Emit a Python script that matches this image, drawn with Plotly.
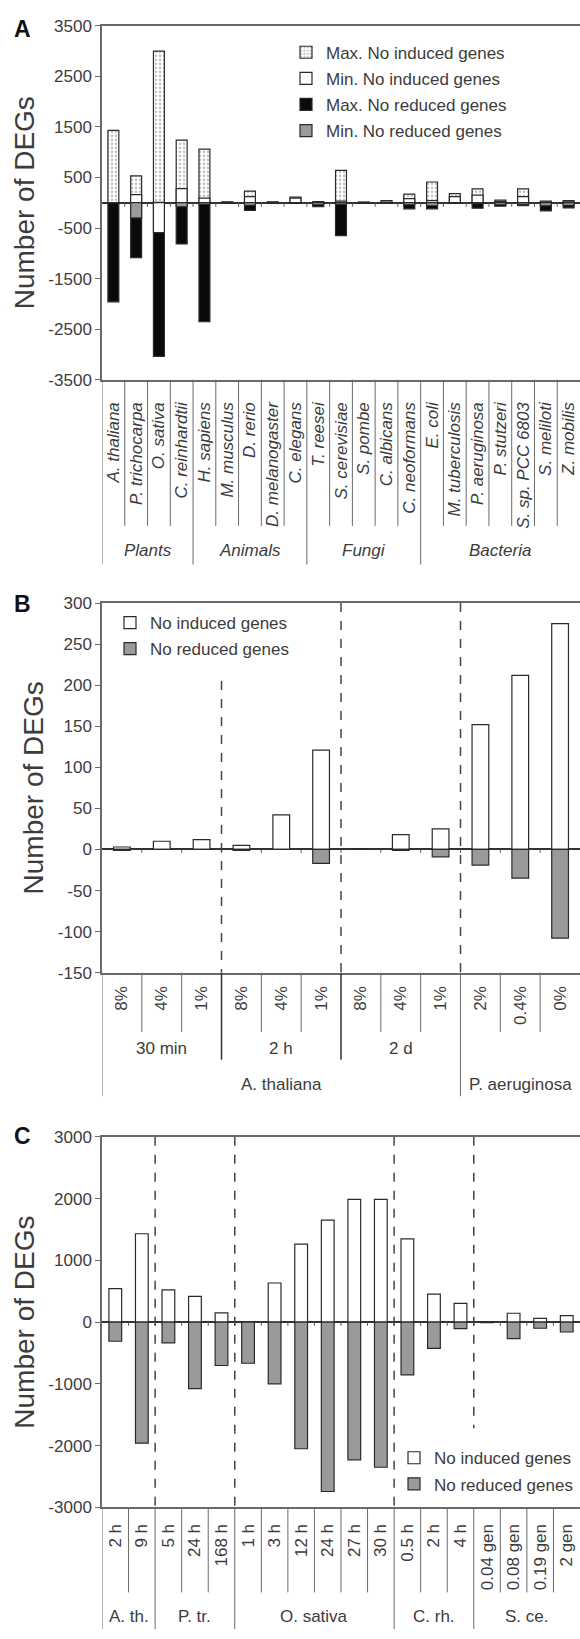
import plotly.graph_objects as go

W, H = 580, 1639

# ---------------- Panel A data ----------------
species = ["A. thaliana", "P. trichocarpa", "O. sativa", "C. reinhardtii", "H. sapiens",
           "M. musculus", "D. rerio", "D. melanogaster", "C. elegans", "T. reesei",
           "S. cerevisiae", "S. pombe", "C. albicans", "C. neoformans", "E. coli",
           "M. tuberculosis", "P. aeruginosa", "P. stutzeri", "S. sp. PCC 6803",
           "S. meliloti", "Z. mobilis"]
kingdoms = ["Plants", "Animals", "Fungi", "Bacteria"]
kingdom_sizes = [4, 5, 5, 7]
a_max_induced = [1430, 530, 3000, 1240, 1060, 15, 230, 15, 110, 20, 640, 10, 40, 170, 410, 180, 275, 50, 275, 30, 40]
a_min_induced = [3, 160, 5, 280, 90, 5, 120, 5, 90, 10, 30, 5, 10, 80, 40, 120, 152, 20, 120, 10, 15]
a_max_reduced = [-1960, -1085, -3040, -815, -2355, -15, -150, -15, -10, -80, -650, -10, -5, -120, -120, -10, -108, -70, -60, -160, -100]
a_min_reduced = [-5, -300, -590, -80, -30, -5, -50, -5, -5, -40, -30, -5, -2, -40, -60, -5, -19, -40, -30, -60, -50]
a_ticks = [-3500, -2500, -1500, -500, 500, 1500, 2500, 3500]

# ---------------- Panel B data ----------------
b_conc = ["8%", "4%", "1%", "8%", "4%", "1%", "8%", "4%", "1%", "2%", "0.4%", "0%"]
b_times = ["30 min", "2 h", "2 d", ""]
b_time_sizes = [3, 3, 3, 3]
b_species = ["A. thaliana", "P. aeruginosa"]
b_species_sizes = [9, 3]
b_induced = [3, 10, 12, 5, 42, 121, 0, 18, 25, 152, 212, 275]
b_reduced = [-1, 0, 0, -1, 0, -17, 0, -1, -9, -19, -35, -108]
b_ticks = [-150, -100, -50, 0, 50, 100, 150, 200, 250, 300]

# ---------------- Panel C data ----------------
c_times = ["2 h", "9 h", "5 h", "24 h", "168 h", "1 h", "3 h", "12 h", "24 h", "27 h", "30 h",
           "0.5 h", "2 h", "4 h", "0.04 gen", "0.08 gen", "0.19 gen", "2 gen"]
c_species = ["A. th.", "P. tr.", "O. sativa", "C. rh.", "S. ce."]
c_species_sizes = [2, 3, 6, 3, 4]
c_induced = [543, 1430, 521, 415, 149, 5, 633, 1262, 1650, 1986, 1986, 1347, 452, 303, 10, 143, 60, 106]
c_reduced = [-310, -1960, -336, -1077, -703, -666, -1000, -2050, -2742, -2230, -2350, -853, -426, -107, -10, -266, -100, -160]
c_ticks = [-3000, -2000, -1000, 0, 1000, 2000, 3000]

# ---------------- styling ----------------
FONT = "Arial, Liberation Sans, Helvetica, sans-serif"
TXT = "#3c3c3c"
AX = "#6a6a6a"
EDGE = "#2a2a2a"
GRAY = "#9a9a9a"
a_min_reduced_colors = [GRAY] * len(species)
a_min_reduced_colors[2] = "white"


def py(p):
    return 1 - p / H


X0 = 102 / W

fig = go.Figure()

# Panel A bars
ia = list(range(len(species)))
fig.add_trace(go.Bar(x=ia, y=a_max_induced, name="Max. No induced genes", width=0.48,
                     marker=dict(color="white", line=dict(color=EDGE, width=1.2),
                                 pattern=dict(shape=".", fgcolor="#777", size=4, solidity=0.3)),
                     xaxis="x", yaxis="y", legend="legend", legendgroup="a1"))
fig.add_trace(go.Bar(x=ia, y=a_min_induced, name="Min. No induced genes", width=0.48,
                     marker=dict(color="white", line=dict(color=EDGE, width=1.2)),
                     xaxis="x", yaxis="y", legend="legend", legendgroup="a2"))
fig.add_trace(go.Bar(x=ia, y=a_max_reduced, name="Max. No reduced genes", width=0.48,
                     marker=dict(color="#0a0a0a", line=dict(color=EDGE, width=1.2)),
                     xaxis="x", yaxis="y", legend="legend", legendgroup="a3"))
fig.add_trace(go.Bar(x=ia, y=a_min_reduced, name="Min. No reduced genes", width=0.48,
                     marker=dict(color=a_min_reduced_colors, line=dict(color=EDGE, width=1.2)),
                     xaxis="x", yaxis="y", legend="legend", legendgroup="a4"))

# Panel B bars
ib = list(range(len(b_conc)))
fig.add_trace(go.Bar(x=ib, y=b_induced, name="No induced genes", width=0.42,
                     marker=dict(color="white", line=dict(color=EDGE, width=1.2)),
                     xaxis="x2", yaxis="y2", legend="legend2", legendgroup="b1"))
fig.add_trace(go.Bar(x=ib, y=b_reduced, name="No reduced genes", width=0.42,
                     marker=dict(color=GRAY, line=dict(color=EDGE, width=1.2)),
                     xaxis="x2", yaxis="y2", legend="legend2", legendgroup="b2"))

# Panel C bars
ic = list(range(len(c_times)))
fig.add_trace(go.Bar(x=ic, y=c_induced, name="No induced genes", width=0.48,
                     marker=dict(color="white", line=dict(color=EDGE, width=1.2)),
                     xaxis="x3", yaxis="y3", legend="legend3", legendgroup="c1"))
fig.add_trace(go.Bar(x=ic, y=c_reduced, name="No reduced genes", width=0.48,
                     marker=dict(color=GRAY, line=dict(color=EDGE, width=1.2)),
                     xaxis="x3", yaxis="y3", legend="legend3", legendgroup="c2"))

shapes = []
annotations = []


def vline(xref, x, p0, p1, color=AX, width=1, dash="solid"):
    shapes.append(dict(type="line", xref=xref, yref="paper", x0=x, x1=x, y0=py(p0), y1=py(p1),
                       line=dict(color=color, width=width, dash=dash)))


def group_labels(xref, names, sizes, ycenter, italic=False):
    start = 0
    for name, n in zip(names, sizes):
        if name:
            annotations.append(dict(xref=xref, yref="paper", x=start + (n - 1) / 2, y=py(ycenter),
                                    text=name, showarrow=False, xanchor="center", yanchor="middle",
                                    font=dict(family=FONT, size=17, color=TXT,
                                              style="italic" if italic else "normal")))
        start += n


def boundaries(sizes):
    out, s = [], 0
    for n in sizes[:-1]:
        s += n
        out.append(s - 0.5)
    return out


def zero_ticks(xref, yref, n, half):
    for i in range(n - 1):
        shapes.append(dict(type="line", xref=xref, yref=yref, x0=i + 0.5, x1=i + 0.5, y0=0, y1=-half,
                           line=dict(color="#555", width=1)))


# Panel A axis decorations
kb = boundaries(kingdom_sizes)
for i in range(len(species) - 1):
    b = i + 0.5
    vline("x", b, 375, 562 if b in kb else 523)
vline("x", -0.5, 375, 562)
group_labels("x", kingdoms, kingdom_sizes, 548, italic=True)
zero_ticks("x", "y", len(species), 80)

# Panel B axis decorations
tb = boundaries(b_time_sizes)
sb = boundaries(b_species_sizes)
for i in range(len(b_conc) - 1):
    b = i + 0.5
    if b in sb:
        vline("x2", b, 975, 1100)
    elif b in tb:
        vline("x2", b, 975, 1063, color="#333", width=1.5)
    else:
        vline("x2", b, 975, 1035)
vline("x2", -0.5, 975, 1100)
group_labels("x2", b_times, b_time_sizes, 1052)
group_labels("x2", b_species, b_species_sizes, 1088)
zero_ticks("x2", "y2", len(b_conc), 4)
# dashed separators inside B
shapes.append(dict(type="line", xref="x2", yref="y2", x0=2.5, x1=2.5, y0=205, y1=-150,
                   line=dict(color="#444", width=1.5, dash="dash")))
for b in (5.5, 8.5):
    shapes.append(dict(type="line", xref="x2", yref="y2", x0=b, x1=b, y0=300, y1=-150,
                       line=dict(color="#444", width=1.5, dash="dash")))

# Panel C axis decorations
cb = boundaries(c_species_sizes)
for i in range(len(c_times) - 1):
    b = i + 0.5
    vline("x3", b, 1516, 1639 if b in cb else 1602)
vline("x3", -0.5, 1516, 1639)
group_labels("x3", c_species, c_species_sizes, 1626)
zero_ticks("x3", "y3", len(c_times), 60)
for b in cb:
    shapes.append(dict(type="line", xref="x3", yref="y3", x0=b, x1=b, y0=3000,
                       y1=-1720 if b == cb[-1] else -3000,
                       line=dict(color="#444", width=1.5, dash="dash")))

# panel letters
for letter, p in (("A", 20), ("B", 602), ("C", 1140)):
    annotations.append(dict(xref="paper", yref="paper", x=12 / W, y=py(p), text="<b>%s</b>" % letter,
                            showarrow=False, xanchor="left", yanchor="middle",
                            font=dict(family=FONT, size=23, color="#111")))


def xax(n, labels, italic, standoff, anchor):
    return dict(domain=[X0, 1], range=[-0.5, n - 0.5], anchor=anchor, tickmode="array",
                tickvals=list(range(n)), ticktext=labels, tickangle=-90, ticks="",
                ticklabelstandoff=standoff,
                tickfont=dict(family=FONT, size=17, color=TXT, style="italic" if italic else "normal"),
                showline=True, mirror=True, linecolor=AX, linewidth=1.5, showgrid=False, zeroline=False)


def yax(dom, ticks, anchor):
    return dict(domain=dom, range=[ticks[0], ticks[-1]], anchor=anchor, tickmode="array",
                tickvals=ticks, ticktext=[str(t) for t in ticks],
                ticks="outside", ticklen=5, tickcolor=AX, tickwidth=1,
                tickfont=dict(family=FONT, size=17, color=TXT),
                showline=True, linecolor=AX, linewidth=1.5, showgrid=False,
                zeroline=True, zerolinecolor="#333", zerolinewidth=1.5,
                title=dict(text="Number of DEGs", standoff=6, font=dict(family=FONT, size=28, color=TXT)))


def legend(x, ytop):
    return dict(x=x / W, y=py(ytop), xanchor="left", yanchor="top", bgcolor="rgba(0,0,0,0)",
                font=dict(family=FONT, size=17, color=TXT), tracegroupgap=1, borderwidth=0)


fig.update_layout(
    width=W, height=H, margin=dict(l=0, r=0, t=0, b=0),
    paper_bgcolor="white", plot_bgcolor="white", barmode="overlay",
    font=dict(family=FONT, color=TXT),
    xaxis=xax(len(species), species, True, 14, "y"),
    yaxis=yax([py(375), py(17)], a_ticks, "x"),
    xaxis2=xax(len(b_conc), b_conc, False, 5, "y2"),
    yaxis2=yax([py(975), py(601)], b_ticks, "x2"),
    xaxis3=xax(len(c_times), c_times, False, 8, "y3"),
    yaxis3=yax([py(1516), py(1141)], c_ticks, "x3"),
    legend=legend(286, 26),
    legend2=legend(110, 603),
    legend3=legend(394, 1448),
    shapes=shapes, annotations=annotations,
)

fig.write_html("out.html", config={"displayModeBar": False},
               post_script="document.body.style.margin='0px';document.body.style.overflow='hidden';")
